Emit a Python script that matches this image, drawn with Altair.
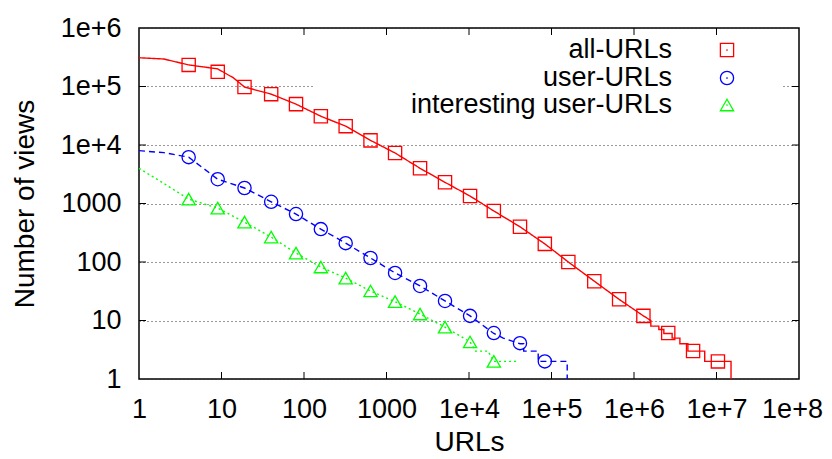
import altair as alt
import pandas as pd

W, H = 660, 351
FONT = "Liberation Sans"

series = ["all-URLs", "user-URLs", "interesting user-URLs"]
colors = ["#ff0000", "#0000ff", "#00ff00"]
shapes = ["square", "circle", "triangle-up"]
dashes = [[1, 0], [6, 4], [2, 3]]

# marker positions (every n-th point of each ranked curve)
all_mx = [4, 9, 19, 40, 80, 160, 320, 640, 1270, 2550, 5120, 10300, 20000, 41500,
          83000, 160000, 330000, 660000, 1300000, 2600000, 5200000, 10400000]
all_my = [234000, 178000, 98000, 74000, 50000, 31000, 21000, 12000, 7300, 4000, 2300,
          1340, 745, 400, 204, 100, 47, 23, 12, 6.1, 3, 2]

user_mx = [4, 9, 19, 40, 80, 160, 320, 640, 1270, 2550, 5120, 10300, 20000, 41500, 83000]
user_my = [6200, 2600, 1840, 1070, 660, 365, 210, 117, 65, 39, 21.6, 12, 6.1, 4.1, 2]

int_mx = [4, 9, 19, 40, 80, 160, 320, 640, 1270, 2550, 5120, 10300, 20000]
int_my = [1190, 835, 480, 267, 142, 82, 53, 32, 21, 12.9, 7.7, 4.3, 2]

# the curves themselves
all_lx = [1, 2, 4, 9, 14, 19, 40, 80, 160, 320, 640, 1270, 2550, 5120, 10300, 20000,
          41500, 83000, 160000, 330000, 660000, 1300000, 1600000, 1600000, 2000000,
          2000000, 2300000, 2300000, 2900000, 2900000, 3600000, 3600000, 4500000,
          4500000, 7200000, 7200000, 15000000, 15000000]
all_ly = [310000, 295000, 234000, 200000, 140000, 98000, 74000, 50000, 31000, 21000,
          12000, 7300, 4000, 2300, 1340, 745, 400, 204, 100, 47, 23, 12, 10, 8, 8, 7,
          7, 6, 6, 5, 5, 4, 4, 3, 3, 2, 2, 1]

user_lx = [1, 2, 4, 9, 19, 40, 80, 160, 320, 640, 1270, 2550, 5120, 10300, 20000,
           26000, 41500, 46000, 46000, 69000, 69000, 155000, 155000]
user_ly = [8000, 7400, 6200, 2600, 1840, 1070, 660, 365, 210, 117, 65, 39, 21.6, 12,
           6, 5, 4, 4, 3, 3, 2, 2, 1]

int_lx = [1, 2, 4, 9, 19, 40, 80, 160, 320, 640, 1270, 2550, 5120, 10300, 12000,
          17000, 20000, 38000]
int_ly = [4000, 2200, 1190, 835, 480, 267, 142, 82, 53, 32, 21, 12.9, 7.7, 4.3, 3,
          3, 2, 2]

x_ticks = [1, 10, 100, 1000, 1e4, 1e5, 1e6, 1e7, 1e8]
y_ticks = [1, 10, 100, 1000, 1e4, 1e5, 1e6]

line_data = [(all_lx, all_ly), (user_lx, user_ly), (int_lx, int_ly)]
mark_data = [(all_mx, all_my), (user_mx, user_my), (int_mx, int_my)]

xscale = alt.Scale(type="log", domain=[1, 1e8], nice=False)
yscale = alt.Scale(type="log", domain=[1, 1e6], nice=False)
label_expr = ("datum.value < 10000 ? format(datum.value, 'd') : "
              "'1e+' + format(round(log(datum.value) / LN10), 'd')")

x_axis = alt.Axis(values=x_ticks, labelExpr=label_expr, grid=False, ticks=False,
                  domain=False, labelFontSize=27, labelPadding=17, labelFlush=False,
                  labelOverlap=False, labelColor="black", labelFont=FONT,
                  labelOffset={"condition": {"test": "datum.value > 5e7", "value": -7},
                               "value": 0},
                  title="URLs", titleFontSize=28, titleFontWeight="normal",
                  titleFont=FONT, titleColor="black", titleX=W / 2, titleY=71,
                  titleAlign="center", titleBaseline="alphabetic")
y_axis = alt.Axis(values=y_ticks, labelExpr=label_expr, grid=True, gridDash=[1, 3],
                  gridColor="#333333", gridWidth=1, ticks=False, domain=False,
                  labelFontSize=27, labelPadding=18, labelOverlap=False,
                  labelColor="black", labelFont=FONT, labelFlush=False,
                  title="Number of views", titleFontSize=28,
                  titleFontWeight="normal", titleFont=FONT, titleColor="black",
                  titleX=-106, titleY=H / 2, titleAlign="center",
                  titleBaseline="alphabetic", titleAngle=270)


def X(field):
    return alt.X(field, scale=xscale, axis=x_axis, title="URLs")


def Y(field):
    return alt.Y(field, scale=yscale, axis=y_axis, title="Number of views")


layers = []

# key box (hides the grid behind the key)
box_df = pd.DataFrame({"a": [0]})
layers.append(alt.Chart(box_df).mark_rect(color="white").encode(
    x=alt.value(174), x2=alt.value(644), y=alt.value(8), y2=alt.value(100)))

# inward ticks on all four sides
xt_df = pd.DataFrame({"v": x_ticks[1:-1]})
yt_df = pd.DataFrame({"v": y_ticks[1:-1]})
for y0, y1 in [(H, H - 7), (0, 7)]:
    layers.append(alt.Chart(xt_df).mark_rule(color="black", strokeWidth=1).encode(
        x=X("v:Q"), y=alt.value(y0), y2=alt.value(y1)))
for x0, x1 in [(0, 7), (W, W - 7)]:
    layers.append(alt.Chart(yt_df).mark_rule(color="black", strokeWidth=1).encode(
        y=Y("v:Q"), x=alt.value(x0), x2=alt.value(x1)))

for i, name in enumerate(series):
    lx, ly = line_data[i]
    ldf = pd.DataFrame({"x": lx, "y": ly, "i": list(range(len(lx)))})
    layers.append(alt.Chart(ldf).mark_line(
        color=colors[i], strokeWidth=1.4, strokeDash=dashes[i]).encode(
        x=X("x:Q"), y=Y("y:Q"), order="i:Q"))
    mx, my = mark_data[i]
    mdf = pd.DataFrame({"x": mx, "y": my})
    layers.append(alt.Chart(mdf).mark_point(
        shape=shapes[i], color=colors[i], filled=False, strokeWidth=1.3,
        size=175, opacity=1).encode(x=X("x:Q"), y=Y("y:Q")))

# key
key_y = [22, 50, 77]
for i, name in enumerate(series):
    kdf = pd.DataFrame({"label": [name]})
    layers.append(alt.Chart(kdf).mark_text(
        align="right", baseline="alphabetic", font=FONT, fontSize=27,
        color="black").encode(text="label:N", x=alt.value(533),
                              y=alt.value(key_y[i] + 8)))
    layers.append(alt.Chart(kdf).mark_point(
        shape=shapes[i], color=colors[i], filled=False, strokeWidth=1.3,
        size=175, opacity=1).encode(x=alt.value(588), y=alt.value(key_y[i])))
    layers.append(alt.Chart(kdf).mark_point(
        shape="circle", color=colors[i], filled=True, size=3, opacity=1).encode(
        x=alt.value(588), y=alt.value(key_y[i])))

chart = alt.layer(*layers).properties(
    width=W, height=H,
    autosize=alt.AutoSizeParams(type="none"),
    padding={"left": 131, "top": 20, "right": 25, "bottom": 72},
).configure_view(stroke="black", strokeWidth=1.5)

chart.save("out.html", embed_options={"renderer": "svg", "actions": False})
